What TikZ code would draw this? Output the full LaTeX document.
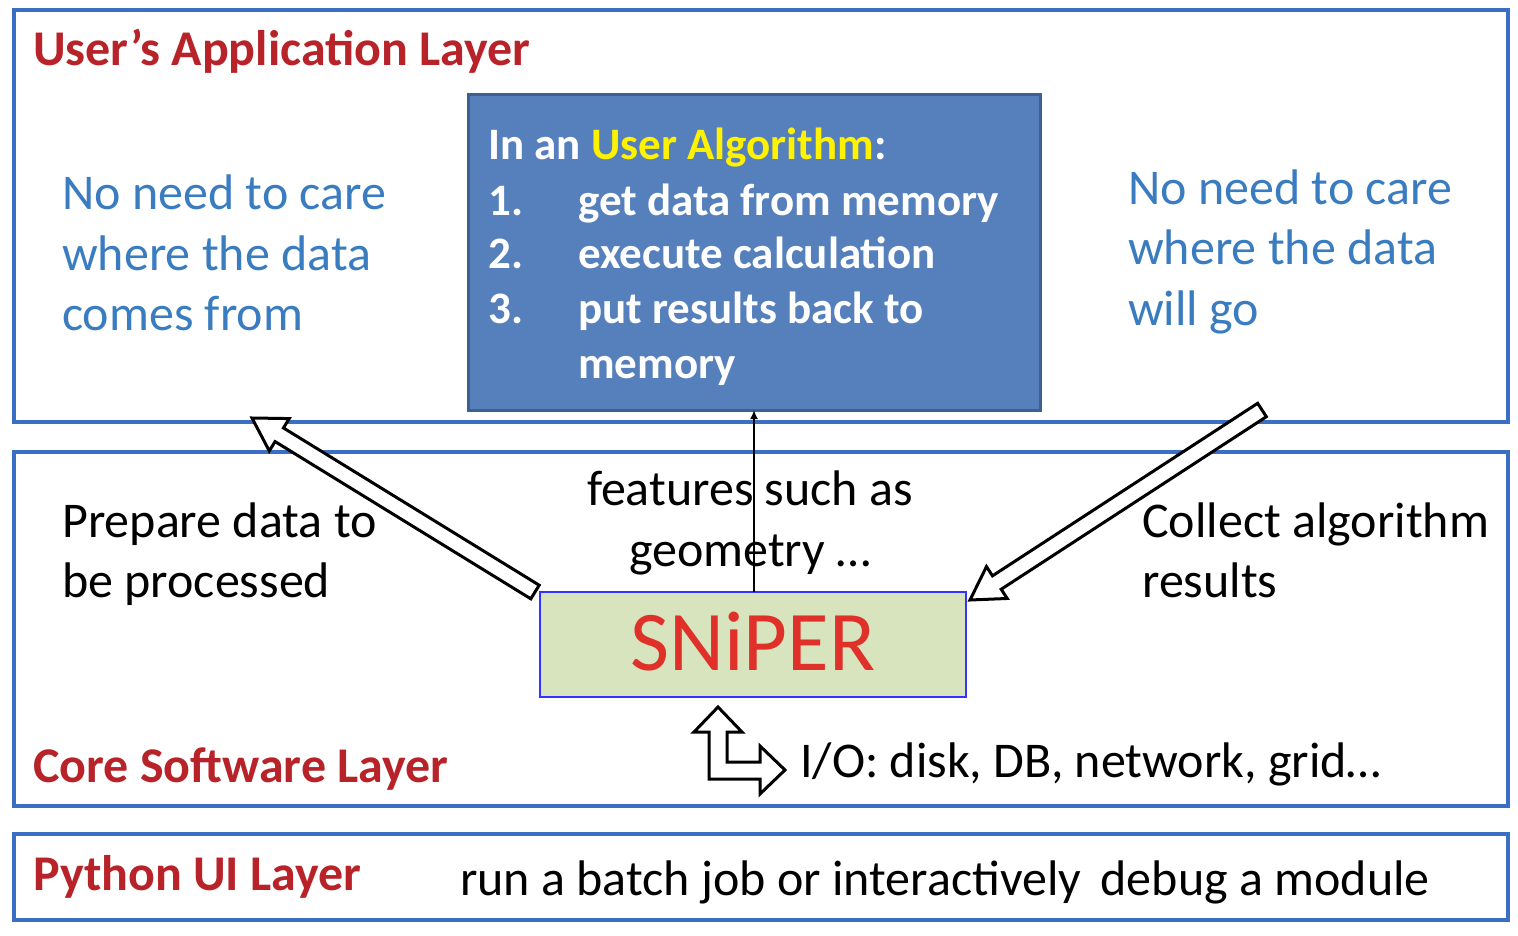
\documentclass[tikz,border=0pt]{standalone}
\usepackage{fontspec}
\setmainfont{Carlito}
\usetikzlibrary{calc,arrows.meta}
\definecolor{frame}{HTML}{3A6FC4}
\definecolor{ttl}{HTML}{B8232A}
\definecolor{bl}{HTML}{3A7CC0}
\definecolor{algo}{HTML}{5680BC}
\definecolor{algob}{HTML}{3F5F90}
\definecolor{snf}{HTML}{D7E4BD}
\definecolor{snr}{HTML}{E0302A}
\newcommand\hollowarrow[2]{%
  \coordinate (hh) at ($(#2)!32pt!(#1)$);
  \draw[line width=3pt,fill=white,line join=miter]
   ($(#1)!8pt!90:(#2)$) -- ($(hh)!8pt!-90:(#1)$) -- ($(hh)!19pt!-90:(#1)$) -- (#2)
   -- ($(hh)!19pt!90:(#1)$) -- ($(hh)!8pt!90:(#1)$) -- ($(#1)!8pt!-90:(#2)$) -- cycle;}
\begin{document}
\begin{tikzpicture}[x=1pt,y=-1pt,
  layer/.style={draw=frame,line width=3.5pt},
  title/.style={anchor=base west,inner sep=0,text=ttl,font=\bfseries\fontsize{50}{60}\selectfont},
  bt/.style={anchor=base west,inner sep=0,text=bl,font=\fontsize{50}{60}\selectfont},
  kt/.style={anchor=base west,inner sep=0,font=\fontsize{50}{60}\selectfont},
  algt/.style={anchor=base west,inner sep=0,text=white,font=\bfseries\fontsize{45}{54}\selectfont}]
\useasboundingbox (0,0) rectangle (1518,936);
\draw[layer] (14,10) rectangle (1508,422);
\draw[layer] (14,452) rectangle (1508,806);
\draw[layer] (14,834) rectangle (1508,920);
\node[title] (t1) at (33,66) {User’s Application Layer};
\node[title] (t2) at (33,782) {Core Software Layer};
\node[title] (t3) at (33,890) {Python UI Layer};
\draw[draw=algob,fill=algo,line width=3pt] (468,95) rectangle (1040,410);
\node[algt] (a0) at (488,160) {In an \textcolor{yellow}{User Algorithm}:};
\node[algt] (n1) at (488,215) {1.}; \node[algt] (l1) at (578,215) {get data from memory};
\node[algt] (n2) at (488,268) {2.}; \node[algt] (l2) at (578,268) {execute calculation};
\node[algt] (n3) at (488,323) {3.}; \node[algt] (l3) at (578,323) {put results back to};
\node[algt] (l4) at (578,378) {memory};
\node[bt] (b1) at (62,210) {No need to care};
\node[bt] (b2) at (62,270) {where the data};
\node[bt] (b3) at (62,330) {comes from};
\node[bt] (c1) at (1128,205) {No need to care};
\node[bt] (c2) at (1128,265) {where the data};
\node[bt] (c3) at (1128,325) {will go};
\node[kt] (p1) at (62,537) {Prepare data to};
\node[kt] (p2) at (62,597) {be processed};
\node[kt,anchor=base] (f1) at (750,505) {features such as};
\node[kt,anchor=base] (f2) at (750,566) {geometry …};
\node[kt] (r1) at (1142,537) {Collect algorithm};
\node[kt] (r2) at (1142,597) {results};
\node[kt] (io) at (800,777) {I/O: disk, DB, network, grid…};
\node[kt] (py) at (460,895) {run a batch job or interactively\, debug a module};
\node[draw=blue!80,line width=2.5pt,fill=snf,minimum width=426pt,minimum height=105pt,inner sep=0] (sn) at (753,644.5) {};
\node[anchor=base,inner sep=0,text=snr,font=\fontsize{85}{96}\selectfont] (snt) at (753,670) {SNiPER};
\coordinate (la) at (535,592); \coordinate (lb) at (252,418);
\hollowarrow{la}{lb}
\coordinate (ra) at (1262,410); \coordinate (rb) at (970,600);
\hollowarrow{ra}{rb}
\coordinate (ua) at (754,592); \coordinate (ub) at (754,410);
\draw[line width=2pt,-{Latex[length=9pt,width=8pt]}] (ua) -- (ub);
\draw[line width=3pt,fill=white,line join=miter] (718,707) -- (742,732) -- (727,732) -- (727,762) -- (760,762) -- (760,746) -- (785,770) -- (760,794) -- (760,779) -- (709,779) -- (709,732) -- (694,732) -- cycle;
\end{tikzpicture}
\end{document}
